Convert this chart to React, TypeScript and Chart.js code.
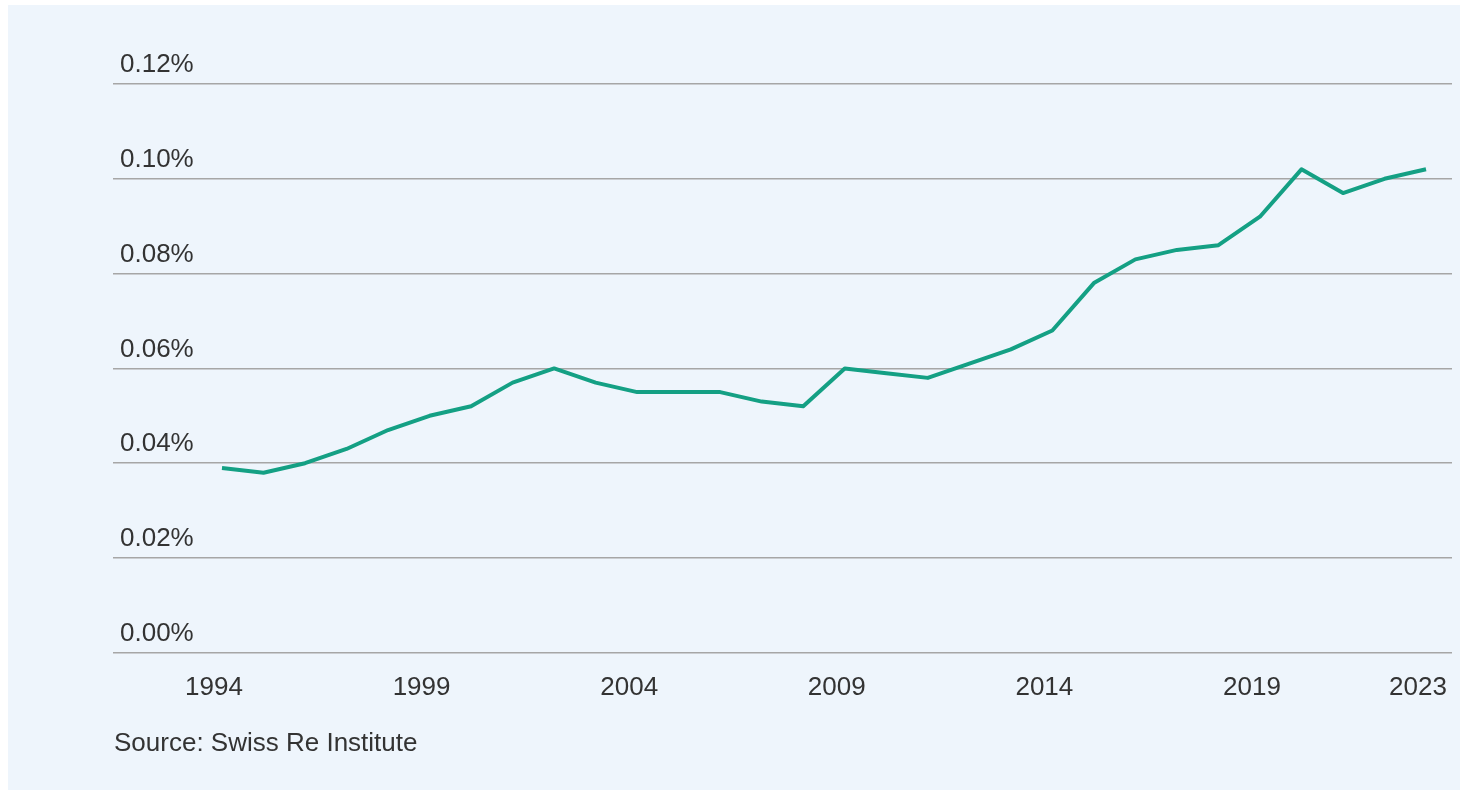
import React, { useEffect, useRef } from "react";
import { Chart, registerables } from "chart.js";

Chart.register(...registerables);

const years: number[] = [
  1994, 1995, 1996, 1997, 1998, 1999, 2000, 2001, 2002, 2003,
  2004, 2005, 2006, 2007, 2008, 2009, 2010, 2011, 2012, 2013,
  2014, 2015, 2016, 2017, 2018, 2019, 2020, 2021, 2022, 2023,
];

const values: number[] = [
  0.039, 0.038, 0.040, 0.043, 0.047, 0.050, 0.052, 0.057, 0.060, 0.057,
  0.055, 0.055, 0.055, 0.053, 0.052, 0.060, 0.059, 0.058, 0.061, 0.064,
  0.068, 0.078, 0.083, 0.085, 0.086, 0.092, 0.102, 0.097, 0.100, 0.102,
];

const xTickYears: number[] = [1994, 1999, 2004, 2009, 2014, 2019, 2023];

const sourceText = "Source: Swiss Re Institute";

const FONT = '"Liberation Sans", Arial, Helvetica, sans-serif';

export default function App() {
  const canvasRef = useRef<HTMLCanvasElement | null>(null);

  useEffect(() => {
    if (!canvasRef.current) return;
    const chart = new Chart(canvasRef.current, {
      type: "line",
      data: {
        datasets: [
          {
            data: years.map((y, i) => ({ x: y, y: values[i] })),
            borderColor: "#14A084",
            borderWidth: 4,
            borderJoinStyle: "round",
            pointRadius: 0,
            tension: 0,
            fill: false,
          },
        ],
      },
      options: {
        animation: false,
        responsive: false,
        maintainAspectRatio: false,
        layout: { padding: { left: 105, right: 8, top: 79, bottom: 18 } },
        plugins: {
          legend: { display: false },
          tooltip: { enabled: false },
        },
        scales: {
          x: {
            type: "linear",
            min: 1991.375,
            max: 2023.626,
            grid: { display: false, drawTicks: false },
            border: { display: false },
            afterBuildTicks: (axis: any) => {
              axis.ticks = xTickYears.map((v) => ({ value: v }));
            },
            afterFit: (axis: any) => {
              axis.paddingLeft = 0;
              axis.paddingRight = 0;
            },
            ticks: {
              autoSkip: false,
              maxRotation: 0,
              padding: 19,
              labelOffset: -8,
              color: "#333333",
              font: { family: FONT, size: 26 },
              callback: (v: any) => String(v),
            },
          },
          y: {
            min: 0,
            max: 0.12,
            grid: {
              color: "#A6A6A6",
              lineWidth: 1.5,
              drawTicks: false,
            },
            border: { display: false },
            afterFit: (axis: any) => {
              axis.width = 0;
              axis.paddingTop = 0;
              axis.paddingBottom = 0;
            },
            ticks: {
              stepSize: 0.02,
              mirror: true,
              padding: 7,
              labelOffset: -19,
              color: "#333333",
              font: { family: FONT, size: 26 },
              callback: (v: any) => Number(v).toFixed(2) + "%",
            },
          },
        },
      },
    });
    return () => chart.destroy();
  }, []);

  return (
    <div
      style={{
        position: "absolute",
        left: 8,
        top: 5,
        width: 1452,
        height: 785,
        background: "#EEF5FC",
      }}
    >
      <canvas
        ref={canvasRef}
        width={1452}
        height={735}
        style={{ position: "absolute", left: 0, top: 0, width: 1452, height: 735 }}
      />
      <div
        style={{
          position: "absolute",
          left: 106,
          top: 722,
          fontFamily: FONT,
          fontSize: 26,
          lineHeight: "30px",
          color: "#333333",
          whiteSpace: "nowrap",
        }}
      >
        {sourceText}
      </div>
    </div>
  );
}
